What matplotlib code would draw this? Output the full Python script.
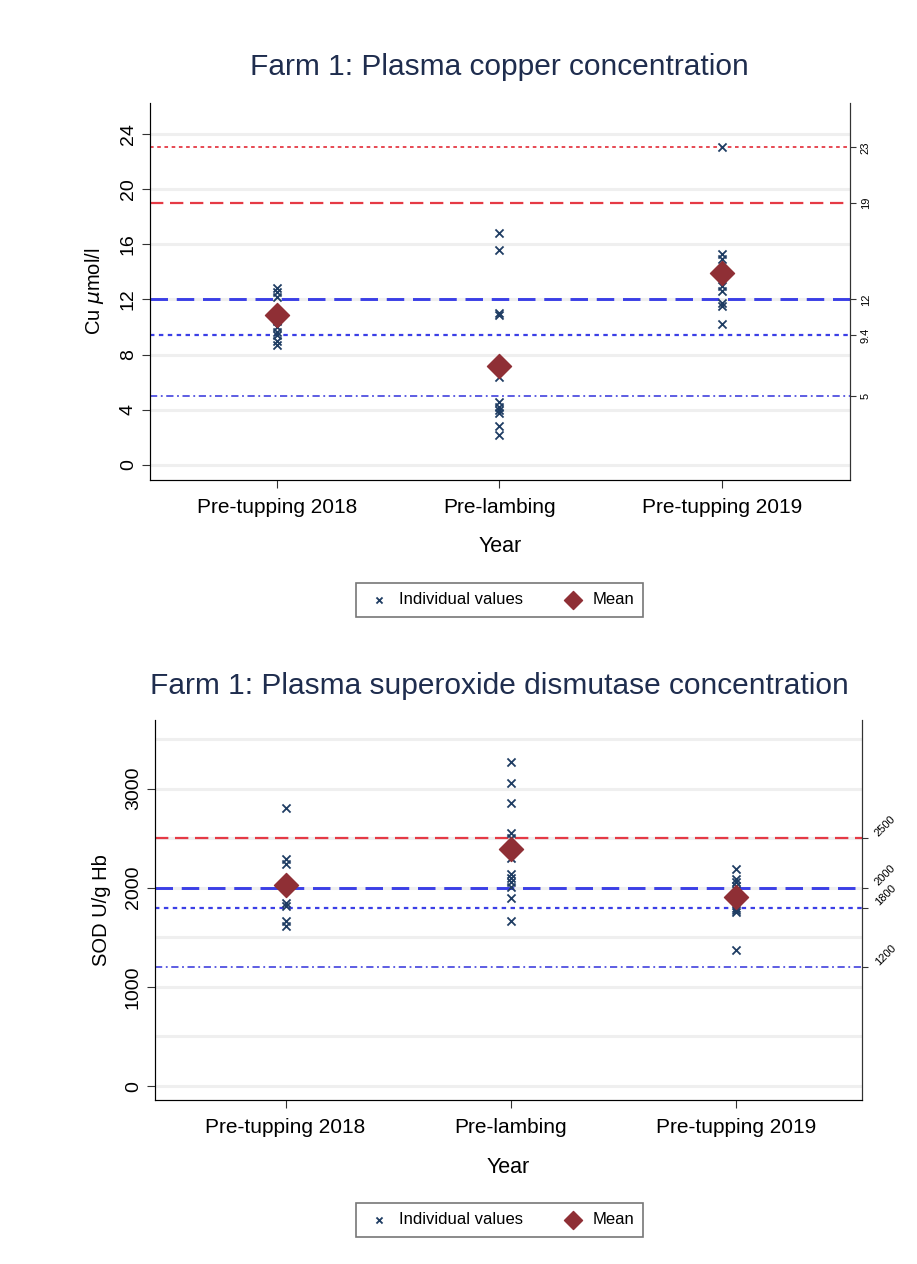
import matplotlib.pyplot as plt
import numpy as np

plt.rcParams['font.family'] = ['Liberation Sans', 'DejaVu Sans']

groups = ['Pre-tupping 2018', 'Pre-lambing', 'Pre-tupping 2019']

# copper, umol/l
cu_pt18 = [12.8, 12.5, 12.2, 10.4, 10.0, 9.6, 9.4, 9.0, 8.7]
cu_pl = [16.8, 15.6, 11.0, 10.9, 6.4, 4.6, 4.2, 4.0, 3.8, 2.8, 2.2]
cu_pt19 = [23.0, 15.3, 14.9, 13.0, 12.6, 11.7, 11.5, 10.2]
cu_mean = [10.9, 7.2, 13.9]
cu_refs = [23, 19, 12, 9.4, 5]
cu_ref_labels = ['23', '19', '12', '9.4', '5']

# superoxide dismutase, U/g Hb
sod_pt18 = [2800, 2290, 2240, 2060, 1850, 1820, 1660, 1610]
sod_pl = [3270, 3060, 2850, 2550, 2500, 2300, 2140, 2100, 2060, 2010, 1900, 1660]
sod_pt19 = [2190, 2090, 2060, 2020, 1980, 1800, 1780, 1760, 1370]
sod_mean = [2030, 2390, 1910]
sod_refs = [2500, 2000, 1800, 1200]
sod_ref_labels = ['2500', '2000', '1800', '1200']

RED = '#e53a45'
BLUE = '#3b3fe6'
ref_styles = {
    'red_short': dict(color=RED, ls=(0, (2, 2)), lw=1.3),
    'red_long': dict(color=RED, ls=(0, (6, 3)), lw=1.6),
    'blue_long': dict(color=BLUE, ls=(0, (6, 3)), lw=2.1),
    'blue_short': dict(color=BLUE, ls=(0, (2, 2)), lw=1.6),
    'blue_dashdot': dict(color='#5050e0', ls=(0, (4, 2, 1, 2)), lw=1.3),
}
cu_ref_style = ['red_short', 'red_long', 'blue_long', 'blue_short', 'blue_dashdot']
sod_ref_style = ['red_long', 'blue_long', 'blue_short', 'blue_dashdot']

NAVY = '#1f3d63'
MAROON = '#8f2f35'
TITLE = '#1f2d4e'


def panel(fig, rect, title, title_y, groups_vals, means, refs, ref_labels, styles,
          ylim, yticks, grid, ylabel, xlim, rot, legend_y):
    ax = fig.add_axes(rect)
    for y in grid:
        ax.axhline(y, color='#efefef', lw=2.2, zorder=0)
    for r, s in zip(refs, styles):
        ax.axhline(r, zorder=1, **ref_styles[s])
    for i, vals in enumerate(groups_vals):
        ax.scatter(np.full(len(vals), i + 1), vals, marker='x', s=34, color=NAVY,
                   linewidths=1.3, zorder=3, label='Individual values' if i == 0 else None)
    ax.scatter([1, 2, 3], means, marker='D', s=150, color=MAROON, zorder=4, label='Mean')
    ax.set_xlim(*xlim)
    ax.set_ylim(*ylim)
    ax.set_yticks(yticks)
    ax.set_yticklabels([str(t) for t in yticks], rotation=90, va='center', fontsize=14)
    ax.set_xticks([1, 2, 3])
    ax.set_xticklabels(groups, fontsize=15)
    ax.tick_params(axis='both', length=6, color='#333333')
    ax.tick_params(axis='x', pad=7)
    ax.spines['top'].set_visible(False)
    for sp in ['left', 'bottom', 'right']:
        ax.spines[sp].set_color('#333333')
    ax.set_ylabel(ylabel, fontsize=14.5, labelpad=10)
    ax.set_xlabel('Year', fontsize=15.5, labelpad=14)

    ax2 = ax.twinx()
    ax2.set_ylim(*ylim)
    ax2.set_yticks(refs)
    ax2.set_yticklabels(ref_labels, rotation=rot, fontsize=8,
                        va='center' if rot == 90 else 'bottom', ha='left')
    ax2.tick_params(axis='y', length=4, color='#333333', pad=4)
    ax2.spines['top'].set_visible(False)
    ax2.spines['right'].set_color('#333333')

    fig.text(0.545, title_y, title, ha='center', va='center', fontsize=21.5, color=TITLE)
    leg = fig.legend(*ax.get_legend_handles_labels(), loc='center',
                     bbox_to_anchor=(0.545, legend_y), ncol=2, fontsize=12,
                     frameon=True, fancybox=False, edgecolor='#555555',
                     columnspacing=2.2, handletextpad=0.4, handlelength=1.6,
                     borderpad=0.55, markerscale=0.75)
    leg.get_frame().set_linewidth(1.2)
    return ax


fig = plt.figure(figsize=(9.17, 12.64), dpi=100)

panel(fig, [0.1636, 0.6203, 0.763, 0.298],
      'Farm 1: Plasma copper concentration', 1 - 67 / 1264,
      [cu_pt18, cu_pl, cu_pt19], cu_mean, cu_refs, cu_ref_labels, cu_ref_style,
      (-1.08, 26.2), [0, 4, 8, 12, 16, 20, 24], [0, 4, 8, 12, 16, 20, 24],
      r'Cu $\mu$mol/l', (0.43, 3.575), 90, 1 - 600 / 1264)

panel(fig, [0.169, 0.1297, 0.771, 0.3006],
      'Farm 1: Plasma superoxide dismutase concentration', 1 - 686 / 1264,
      [sod_pt18, sod_pl, sod_pt19], sod_mean, sod_refs, sod_ref_labels, sod_ref_style,
      (-141, 3690), [0, 1000, 2000, 3000], [0, 500, 1000, 1500, 2000, 2500, 3000, 3500],
      'SOD U/g Hb', (0.42, 3.56), 45, 1 - 1220 / 1264)

fig.savefig('out.png', dpi=100, facecolor='white')
